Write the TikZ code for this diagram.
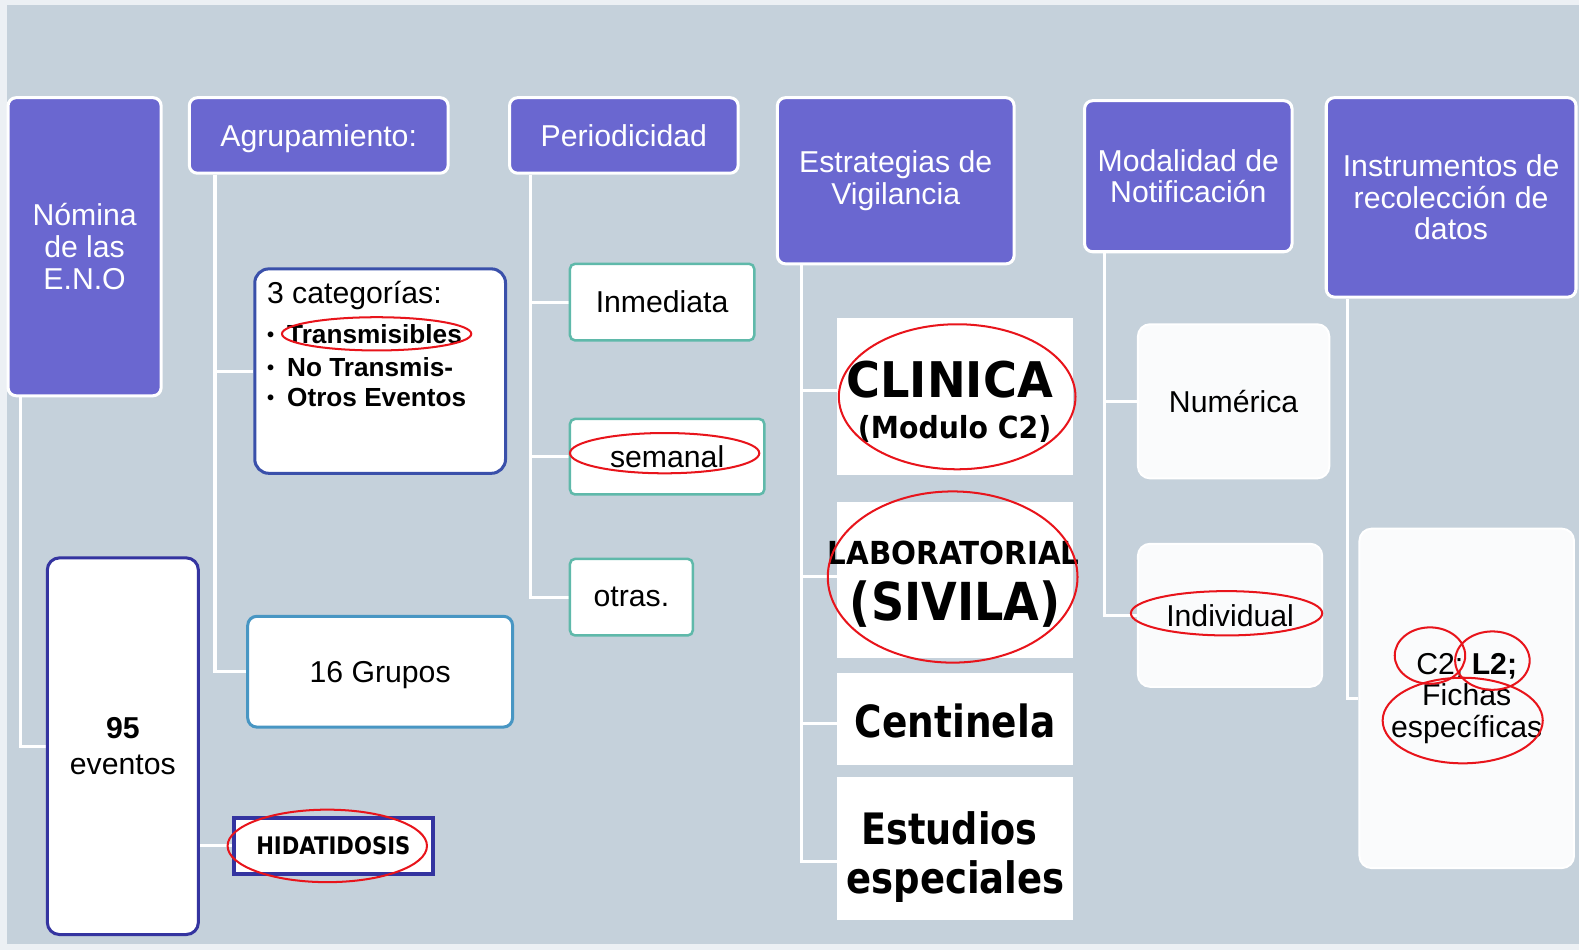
\documentclass[tikz,border=0pt]{standalone}
\usepackage{fontspec}
\usepackage{graphicx}
\setmainfont{Liberation Sans}
\newfontfamily\tah{DejaVu Sans}
\definecolor{bg}{RGB}{197,209,219}
\definecolor{outer}{RGB}{236,240,244}
\definecolor{hdrfill}{RGB}{106,103,208}
\definecolor{navy}{RGB}{52,52,160}
\definecolor{catblue}{RGB}{58,80,170}
\definecolor{grpblue}{RGB}{72,150,195}
\definecolor{tealb}{RGB}{95,185,170}
\definecolor{ring}{RGB}{232,20,27}
\definecolor{soft}{RGB}{250,251,252}
\newcommand\fitw[3]{{\tah\bfseries\fontsize{#2}{#2}\selectfont\resizebox{#1pt}{\height}{#3}}}
\newcommand\bdot{\makebox[20pt][l]{\raisebox{2pt}{\fontsize{20}{20}\selectfont\textbullet}}}
\pgfdeclarelayer{bottom}
\pgfdeclarelayer{background}
\pgfsetlayers{bottom,background,main}
\begin{document}
\begin{tikzpicture}[x=1pt,y=-1pt,
  hdr/.style={draw=white, line width=3pt, fill=hdrfill, rounded corners=8pt, text=white, align=center, inner sep=0pt, font=\fontsize{30}{31.5}\selectfont},
  txt/.style={inner sep=0pt, font=\fontsize{30}{31.5}\selectfont},
  bul/.style={inner sep=0pt, font=\bfseries\fontsize{26}{31}\selectfont},
  big/.style={inner sep=0pt, anchor=base},
  catbox/.style={draw=catblue, line width=3pt, fill=white, rounded corners=14pt, inner sep=0pt},
  grpbox/.style={draw=grpblue, line width=3pt, fill=white, rounded corners=9pt, inner sep=0pt, font=\fontsize{30}{31.5}\selectfont},
  evbox/.style={draw=navy, line width=3pt, fill=white, rounded corners=12pt, inner sep=0pt, align=center, font=\fontsize{30}{36}\selectfont},
  hidbox/.style={draw=navy, line width=4pt, fill=white, inner sep=0pt},
  perbox/.style={draw=tealb, line width=2.5pt, fill=white, rounded corners=5pt, inner sep=0pt, font=\fontsize{30}{31.5}\selectfont},
  estbox/.style={fill=white, minimum width=235pt, inner sep=0pt},
  softbox/.style={fill=soft, draw=white, line width=2pt, rounded corners=12pt, inner sep=0pt, align=center, font=\fontsize{30}{31.5}\selectfont},
  conn/.style={draw=white, line width=3pt},
  ringline/.style={draw=ring, line width=2pt}
]
\useasboundingbox (0,0) rectangle (1568,943);
\begin{pgfonlayer}{bottom}
\fill[outer] (0,0) rectangle (1568,943);
\fill[bg] (7,5) rectangle (1568,937);
\end{pgfonlayer}

% headers
\node[hdr, minimum width=152pt, minimum height=296pt] (nom) at (84,245) {Nómina\\de las\\E.N.O};
\node[hdr, minimum width=257pt, minimum height=75pt, text depth=0pt] (agr) at (316.5,134.5) {Agrupamiento:};
\node[hdr, minimum width=227pt, minimum height=75pt] (per) at (619.5,134.5) {Periodicidad};
\node[hdr, minimum width=235pt, minimum height=165pt] (est) at (889.5,179.5) {Estrategias de\\Vigilancia};
\node[hdr, minimum width=206pt, minimum height=150pt] (mod) at (1180,175) {Modalidad de\\Notificación};
\node[hdr, minimum width=248pt, minimum height=198pt] (ins) at (1441,196) {Instrumentos de\\recolección de\\datos};

% Agrupamiento children
\node[catbox, minimum width=249pt, minimum height=203pt] (cat) at (377.5,368.5) {};
\node[txt, anchor=base west] (cat0) at (265,301) {3 categorías:};
\node[bul, anchor=base west] (cat1) at (265,341.5) {\bdot Transmisibles};
\node[bul, anchor=base west] (cat2) at (265,373.5) {\bdot No Transmis-};
\node[bul, anchor=base west] (cat3) at (265,404) {\bdot Otros Eventos};
\node[grpbox, minimum width=263pt, minimum height=110pt, text depth=0pt] (grp) at (377.5,667) {16 Grupos};

% Nomina children
\node[evbox, minimum width=150pt, minimum height=374pt] (ev) at (122,741) {\textbf{95}\\eventos};
\node[hidbox, minimum width=198pt, minimum height=56pt] (hid) at (331,840) {\fitw{153}{24}{HIDATIDOSIS}};

% Periodicidad children
\node[perbox, minimum width=183pt, minimum height=76pt] (imm) at (657.5,300) {Inmediata};
\node[perbox, minimum width=193pt, minimum height=75pt] (sem) at (662.5,453.5) {semanal};
\node[perbox, minimum width=122pt, minimum height=76pt] (otr) at (627,593) {otras.};

% Estrategias children
\node[estbox, minimum height=156pt] (cli) at (948.5,394) {};
\node[estbox, minimum height=155pt] (lab) at (948.5,575.5) {};
\node[estbox, minimum height=92pt] (cen) at (948.5,714) {};
\node[estbox, minimum height=142pt] (estu) at (948.5,843) {};
\node[big] (cli1) at (943,394.6) {\fitw{205}{48.8}{CLINICA}};
\node[big] (cli2) at (948,435) {\fitw{192}{30.2}{(Modulo C2)}};
\node[big] (lab1) at (947,561) {\fitw{250}{31.5}{LABORATORIAL}};
\node[big] (lab2) at (948.5,615.7) {\fitw{209}{52}{(SIVILA)}};
\node[big] (cen1) at (948.5,732) {\fitw{199}{44}{Centinela}};
\node[big] (estu1) at (943,839) {\fitw{175}{43}{Estudios}};
\node[big] (estu2) at (949,887) {\fitw{216.6}{43}{especiales}};

% Modalidad children
\node[softbox, minimum width=190pt, minimum height=153pt] (num) at (1225,398.5) {Numérica};
\node[softbox, minimum width=183pt, minimum height=142pt] (ind) at (1221.5,611) {Individual};

% Instrumentos child
\node[softbox, minimum width=213pt, minimum height=337pt] (c2) at (1456.5,693.5) {C2; \textbf{L2;}\\Fichas\\específicas};

% connectors
\begin{pgfonlayer}{background}
\draw[conn] ([xshift=14pt]nom.south west) |- (ev.west);
\draw[conn] ([xshift=27pt]agr.south west) |- (cat.west);
\draw[conn] ([xshift=27pt]agr.south west) |- (grp.west);
\draw[conn] ([xshift=22pt]per.south west) |- (imm.west);
\draw[conn] ([xshift=22pt]per.south west) |- (sem.west);
\draw[conn] ([xshift=22pt]per.south west) |- (otr.west);
\draw[conn] ([xshift=25pt]est.south west) |- ([yshift=6pt]cli.west);
\draw[conn] ([xshift=25pt]est.south west) |- ([yshift=3pt]lab.west);
\draw[conn] ([xshift=25pt]est.south west) |- ([yshift=-4pt]cen.west);
\draw[conn] ([xshift=25pt]est.south west) |- ([yshift=-12pt]estu.west);
\draw[conn] ([xshift=21pt]mod.south west) |- (num.west);
\draw[conn] ([xshift=21pt]mod.south west) |- (ind.west);
\draw[conn] ([xshift=23pt]ins.south west) |- (c2.west);
\draw[conn] (ev.east |- hid.west) -- (hid.west);
\end{pgfonlayer}

% red rings
\draw[ringline] (374,331.5) ellipse [x radius=94pt, y radius=16.5pt];
\draw[ringline] (660,450) ellipse [x radius=94pt, y radius=20pt];
\draw[ringline] (950.5,394) ellipse [x radius=117.5pt, y radius=72pt];
\draw[ringline] (946,573) ellipse [x radius=124pt, y radius=85pt];
\draw[ringline] (1218,609) ellipse [x radius=95pt, y radius=22pt];
\draw[ringline] (1420,651) ellipse [x radius=35pt, y radius=28pt];
\draw[ringline] (1482,656) ellipse [x radius=37pt, y radius=29pt];
\draw[ringline] (1452.5,715.5) ellipse [x radius=79.5pt, y radius=42.5pt];
\draw[ringline] (325,840) ellipse [x radius=99pt, y radius=36pt];
\end{tikzpicture}
\end{document}
